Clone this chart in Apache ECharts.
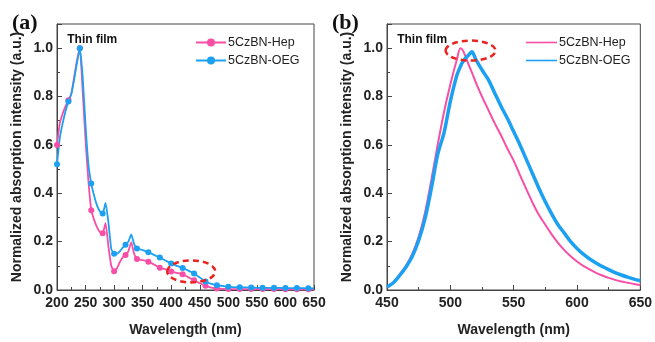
<!DOCTYPE html>
<html>
<head>
<meta charset="utf-8">
<script src="https://cdn.jsdelivr.net/npm/echarts@6/dist/echarts.min.js"></script>
<style>
  html, body { margin: 0; padding: 0; background: #fff; }
  #chart { width: 655px; height: 342px; }
</style>
</head>
<body>
<div id="chart"></div>
<script>
// (a) absorption spectra of the thin films
const absWavelength = [200,205,210,215,220,225,230,235,240,245,250,255,260,265,270,275,280,285,290,295,300,305,310,315,320,325,330,335,340,350,360,370,380,390,400,410,420,430,440,450,460,470,480,500,520,540,560,580,600,620,640,650];
const absHep = [0.60,0.69,0.73,0.76,0.785,0.81,0.88,0.95,1.0,0.82,0.62,0.45,0.33,0.29,0.26,0.24,0.235,0.276,0.18,0.10,0.078,0.09,0.115,0.135,0.145,0.16,0.198,0.15,0.128,0.124,0.117,0.105,0.092,0.085,0.077,0.071,0.065,0.053,0.04,0.028,0.018,0.01,0.006,0.004,0.004,0.004,0.004,0.004,0.003,0.003,0.003,0.003];
const absOeg = [0.52,0.63,0.69,0.74,0.78,0.81,0.87,0.94,1.0,0.88,0.68,0.52,0.44,0.39,0.35,0.325,0.316,0.36,0.28,0.17,0.15,0.15,0.16,0.175,0.187,0.20,0.23,0.19,0.172,0.165,0.156,0.145,0.134,0.122,0.11,0.10,0.091,0.08,0.068,0.052,0.035,0.025,0.02,0.013,0.011,0.01,0.009,0.009,0.008,0.008,0.007,0.007];
// wavelengths that carry a marker on the absorption curves
const markerStep = 20;

// (b) emission spectra of the thin films
const plWavelength = [450,455,460,465,470,475,480,485,490,495,500,505,508,510,515,517,520,525,530,535,540,545,550,555,560,565,570,575,580,585,590,595,600,605,610,615,620,625,630,635,640,645,650];
const plHep = [0.013,0.03,0.065,0.10,0.15,0.22,0.32,0.455,0.60,0.735,0.85,0.95,1.0,0.99,0.925,0.90,0.86,0.80,0.745,0.69,0.64,0.585,0.535,0.475,0.417,0.36,0.31,0.27,0.23,0.195,0.165,0.14,0.118,0.10,0.085,0.071,0.06,0.05,0.042,0.035,0.03,0.025,0.021];
const plOeg = [0.013,0.03,0.06,0.095,0.14,0.205,0.295,0.42,0.56,0.65,0.78,0.885,0.925,0.945,0.975,0.985,0.955,0.91,0.87,0.815,0.76,0.71,0.655,0.60,0.54,0.48,0.42,0.365,0.315,0.27,0.235,0.20,0.172,0.148,0.128,0.112,0.097,0.084,0.072,0.062,0.053,0.045,0.038];

const seriesNames = ['5CzBN-Hep', '5CzBN-OEG'];
const yTitle = 'Normalized absorption intensity (a.u.)';
const xTitle = 'Wavelength (nm)';

const PINK = '#F74FA6';
const BLUE = '#1CA0F2';
const FONT = '"Liberation Sans", Arial, sans-serif';
const INK = '#222';

const zip = (xs, ys) => xs.map((x, i) => [x, ys[i]]);

function xAxisCfg(idx, min, max) {
  return {
    type: 'value', gridIndex: idx, min: min, max: max, interval: 50,
    name: xTitle, nameLocation: 'middle', nameGap: 33,
    nameTextStyle: { fontFamily: FONT, fontWeight: 'bold', fontSize: 14, color: INK },
    axisLine: { show: true, lineStyle: { color: '#444', width: 1 } },
    axisTick: { show: true, inside: true, length: 5, lineStyle: { color: '#444' } },
    minorTick: { show: true, splitNumber: 2, length: 3, lineStyle: { color: '#444' } },
    axisLabel: { fontFamily: FONT, fontWeight: 'bold', fontSize: 14, color: INK, margin: 6 },
    splitLine: { show: false }
  };
}
function yAxisCfg(idx) {
  return {
    type: 'value', gridIndex: idx, min: 0, max: 1.1, interval: 0.2,
    name: yTitle, nameLocation: 'middle', nameGap: 33,
    nameTextStyle: { fontFamily: FONT, fontWeight: 'bold', fontSize: 14, color: INK },
    axisLine: { show: true, lineStyle: { color: '#444', width: 1 } },
    axisTick: { show: true, inside: true, length: 5, lineStyle: { color: '#444' } },
    minorTick: { show: true, splitNumber: 2, length: 3, lineStyle: { color: '#444' } },
    axisLabel: { fontFamily: FONT, fontWeight: 'bold', fontSize: 14, color: INK, margin: 4,
                 showMaxLabel: false, formatter: v => v.toFixed(1) },
    splitLine: { show: false }
  };
}

const markerSymbol = val => (val[0] % markerStep === 0 ? 'circle' : 'none');
const legendText = { fontFamily: FONT, fontSize: 12.5, color: INK, padding: [0, 0, 0, -3] };

const chart = echarts.init(document.getElementById('chart'), null, { renderer: 'canvas' });
chart.setOption({
  animation: false,
  backgroundColor: '#fff',
  grid: [
    { left: 57, top: 24, width: 257, height: 272, show: true, borderColor: '#444', borderWidth: 1 },
    { left: 387, top: 24, width: 257, height: 272, show: true, borderColor: '#444', borderWidth: 1 }
  ],
  xAxis: [xAxisCfg(0, 200, 650), xAxisCfg(1, 450, 650)],
  yAxis: [yAxisCfg(0), yAxisCfg(1)],
  legend: [
    {
      left: 190, top: 31, orient: 'vertical', itemGap: 5, itemWidth: 30, itemHeight: 10,
      data: seriesNames, textStyle: legendText, selectedMode: false
    },
    {
      left: 521, top: 31, orient: 'vertical', itemGap: 5, itemWidth: 31, itemHeight: 10,
      data: seriesNames.map(n => ({ name: n, icon: 'path://M0,4.2 L31,4.2 L31,5.8 L0,5.8 Z' })),
      textStyle: legendText, selectedMode: false
    }
  ],
  series: [
    { name: seriesNames[0], type: 'line', xAxisIndex: 0, yAxisIndex: 0, data: zip(absWavelength, absHep),
      smooth: 0.15, symbol: markerSymbol, symbolSize: 6, showSymbol: true,
      lineStyle: { color: PINK, width: 1.8 }, itemStyle: { color: PINK } },
    { name: seriesNames[1], type: 'line', xAxisIndex: 0, yAxisIndex: 0, data: zip(absWavelength, absOeg),
      smooth: 0.15, symbol: markerSymbol, symbolSize: 6, showSymbol: true,
      lineStyle: { color: BLUE, width: 1.8 }, itemStyle: { color: BLUE } },
    { name: seriesNames[0], type: 'line', xAxisIndex: 1, yAxisIndex: 1, data: zip(plWavelength, plHep),
      smooth: 0.3, symbol: 'none', showSymbol: false,
      lineStyle: { color: PINK, width: 2 }, itemStyle: { color: PINK } },
    { name: seriesNames[1], type: 'line', xAxisIndex: 1, yAxisIndex: 1, data: zip(plWavelength, plOeg),
      smooth: 0.3, symbol: 'none', showSymbol: false,
      lineStyle: { color: BLUE, width: 3.5 }, itemStyle: { color: BLUE } }
  ]
});

// Panel letters, sample labels and dashed highlight rings, anchored to the axes
function place() {
  const ringA = chart.convertToPixel({ gridIndex: 0 }, [435, 0.077]);
  const ringB = chart.convertToPixel({ gridIndex: 1 }, [516, 0.99]);
  const filmA = chart.convertToPixel({ gridIndex: 0 }, [218, 1.06]);
  const filmB = chart.convertToPixel({ gridIndex: 1 }, [458, 1.06]);
  const ring = (c, rx, ry) => ({
    type: 'ellipse', z: 100,
    shape: { cx: c[0], cy: c[1], rx: rx, ry: ry },
    style: { fill: 'none', stroke: '#E8241F', lineWidth: 2.5, lineDash: [6, 4] }
  });
  const txt = (x, y, s, st) => ({ type: 'text', x: x, y: y, z: 100, style: Object.assign({ text: s, fill: '#111' }, st) });
  const letterFont = 'bold 22px "Liberation Serif", "Times New Roman", serif';
  chart.setOption({
    graphic: [
      txt(12, 12, '(a)', { font: letterFont }),
      txt(332, 12, '(b)', { font: letterFont }),
      txt(filmA[0], filmA[1], 'Thin film', { font: 'bold 12px ' + FONT }),
      txt(filmB[0], filmB[1], 'Thin film', { font: 'bold 12px ' + FONT }),
      ring(ringA, 24, 11),
      ring(ringB, 25, 10)
    ]
  });
}
place();
</script>
</body>
</html>
